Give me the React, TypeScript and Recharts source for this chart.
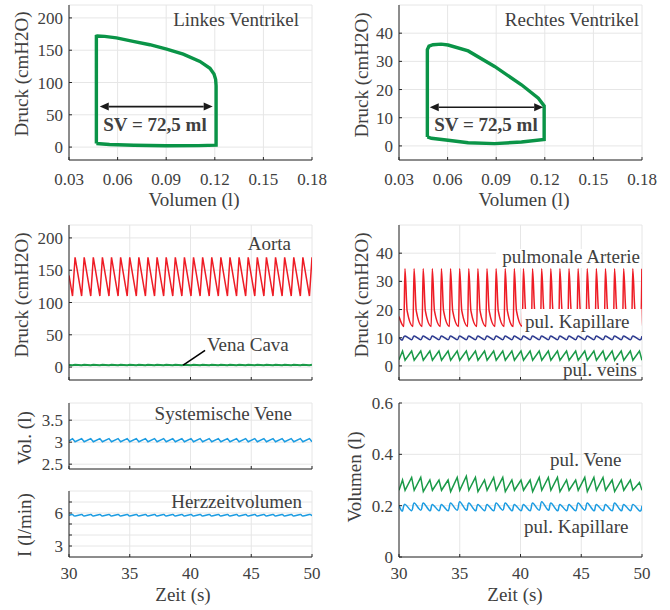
import { CartesianGrid, Line, LineChart, ReferenceLine, XAxis, YAxis } from "recharts";

const FONT = "'Liberation Serif', 'Times New Roman', serif";
const INK = "#404040";
const AXIS = "#262626";
const GRID = "#e6e6e6";
const RED = "#ee1c25";
const GREEN = "#1a9a48";
const NAVY = "#2b3990";
const BLUE = "#1b9ce2";
const LOOP = "#0a9447";

// pressure-volume loops (l, cmH2O)
const LV_VOL = [0.0469, 0.0469, 0.0475, 0.052, 0.0593, 0.0696, 0.0799, 0.0903, 0.1005, 0.1108, 0.117, 0.1195, 0.1205, 0.1208, 0.1208, 0.11, 0.09, 0.07, 0.055, 0.0469];
const LV_P = [5.5, 171.5, 172, 171.5, 169, 163.7, 158.5, 151.8, 144, 132.6, 122, 113, 105, 95, 3, 2.2, 2, 2.8, 4, 5.5];
const RV_VOL = [0.0475, 0.0475, 0.0485, 0.051, 0.056, 0.0603, 0.0727, 0.089, 0.1056, 0.116, 0.1196, 0.1196, 0.1056, 0.089, 0.0727, 0.0603, 0.05, 0.0475];
const RV_P = [3.2, 34.2, 35.4, 35.9, 36.1, 35.8, 33.7, 28.2, 21.7, 16.9, 14.2, 2.3, 1.4, 0.8, 1.1, 2.0, 2.7, 3.2];

const VOL_TICKS = [0.03, 0.06, 0.09, 0.12, 0.15, 0.18];
const T_TICKS = [30, 35, 40, 45, 50];

// time grid: valve onset / peak of each beat
const TIME = [30,
  30.29, 30.5, 31.04, 31.25, 31.79, 32, 32.54, 32.75, 33.29, 33.5, 34.04, 34.25, 34.79, 35, 35.54, 35.75, 36.29, 36.5,
  37.04, 37.25, 37.79, 38, 38.54, 38.75, 39.29, 39.5, 40.04, 40.25, 40.79, 41, 41.54, 41.75, 42.29, 42.5, 43.04, 43.25,
  43.79, 44, 44.54, 44.75, 45.29, 45.5, 46.04, 46.25, 46.79, 47, 47.54, 47.75, 48.29, 48.5, 49.04, 49.25, 49.79, 50];

const AORTA = [142,
  110, 170, 110, 170, 110, 170, 110, 170, 110, 170, 110, 170, 110, 170, 110, 170, 110, 170,
  110, 170, 110, 170, 110, 170, 110, 170, 110, 170, 110, 170, 110, 170, 110, 170, 110, 170,
  110, 170, 110, 170, 110, 170, 110, 170, 110, 170, 110, 170, 110, 170, 110, 170, 110, 170];
const VENA_CAVA = [3.1,
  2.7, 3.5, 2.7, 3.5, 2.7, 3.5, 2.7, 3.5, 2.7, 3.5, 2.7, 3.5, 2.7, 3.5, 2.7, 3.5, 2.7, 3.5,
  2.7, 3.5, 2.7, 3.5, 2.7, 3.5, 2.7, 3.5, 2.7, 3.5, 2.7, 3.5, 2.7, 3.5, 2.7, 3.5, 2.7, 3.5,
  2.7, 3.5, 2.7, 3.5, 2.7, 3.5, 2.7, 3.5, 2.7, 3.5, 2.7, 3.5, 2.7, 3.5, 2.7, 3.5, 2.7, 3.5];
const PUL_CAP_P = [10.0,
  9.3, 10.6, 9.3, 10.6, 9.3, 10.6, 9.3, 10.6, 9.3, 10.6, 9.3, 10.6, 9.3, 10.6, 9.3, 10.6, 9.3, 10.6,
  9.3, 10.6, 9.3, 10.6, 9.3, 10.6, 9.3, 10.6, 9.3, 10.6, 9.3, 10.6, 9.3, 10.6, 9.3, 10.6, 9.3, 10.6,
  9.3, 10.6, 9.3, 10.6, 9.3, 10.6, 9.3, 10.6, 9.3, 10.6, 9.3, 10.6, 9.3, 10.6, 9.3, 10.6, 9.3, 10.6];
const PUL_VEIN_P = [2.2,
  5.3, 2.0, 5.3, 2.0, 5.3, 2.0, 5.3, 2.0, 5.3, 2.0, 5.3, 2.0, 5.3, 2.0, 5.3, 2.0, 5.3, 2.0,
  5.3, 2.0, 5.3, 2.0, 5.3, 2.0, 5.3, 2.0, 5.3, 2.0, 5.3, 2.0, 5.3, 2.0, 5.3, 2.0, 5.3, 2.0,
  5.3, 2.0, 5.3, 2.0, 5.3, 2.0, 5.3, 2.0, 5.3, 2.0, 5.3, 2.0, 5.3, 2.0, 5.3, 2.0, 5.3, 2.0];
const SYS_VENE = [3.03,
  3.08, 3.01, 3.08, 3.01, 3.08, 3.01, 3.08, 3.01, 3.08, 3.01, 3.08, 3.01, 3.08, 3.01, 3.08, 3.01, 3.08, 3.01,
  3.08, 3.01, 3.08, 3.01, 3.08, 3.01, 3.08, 3.01, 3.08, 3.01, 3.08, 3.01, 3.08, 3.01, 3.08, 3.01, 3.08, 3.01,
  3.08, 3.01, 3.08, 3.01, 3.08, 3.01, 3.08, 3.01, 3.08, 3.01, 3.08, 3.01, 3.08, 3.01, 3.08, 3.01, 3.08, 3.01];
const HZV = [5.78,
  5.86, 5.72, 5.86, 5.72, 5.86, 5.72, 5.86, 5.72, 5.86, 5.72, 5.86, 5.72, 5.86, 5.72, 5.86, 5.72, 5.86, 5.72,
  5.86, 5.72, 5.86, 5.72, 5.86, 5.72, 5.86, 5.72, 5.86, 5.72, 5.86, 5.72, 5.86, 5.72, 5.86, 5.72, 5.86, 5.72,
  5.86, 5.72, 5.86, 5.72, 5.86, 5.72, 5.86, 5.72, 5.86, 5.72, 5.86, 5.72, 5.86, 5.72, 5.86, 5.72, 5.86, 5.72];
const PUL_VENE_V = [0.26,
  0.30, 0.26, 0.31, 0.26, 0.31, 0.255, 0.30, 0.26, 0.30, 0.26, 0.30, 0.255, 0.31, 0.26, 0.315, 0.26, 0.31, 0.255,
  0.30, 0.26, 0.31, 0.26, 0.31, 0.255, 0.30, 0.26, 0.30, 0.26, 0.30, 0.255, 0.31, 0.26, 0.31, 0.26, 0.31, 0.255,
  0.30, 0.26, 0.30, 0.26, 0.31, 0.255, 0.31, 0.26, 0.31, 0.26, 0.30, 0.255, 0.30, 0.26, 0.30, 0.26, 0.29, 0.26];
const PUL_KAP_V = [0.20,
  0.18, 0.205, 0.18, 0.21, 0.182, 0.21, 0.18, 0.205, 0.18, 0.205, 0.18, 0.21, 0.182, 0.215, 0.182, 0.21, 0.18, 0.205,
  0.18, 0.205, 0.18, 0.21, 0.182, 0.21, 0.18, 0.205, 0.18, 0.205, 0.18, 0.21, 0.182, 0.215, 0.182, 0.21, 0.18, 0.205,
  0.18, 0.205, 0.18, 0.21, 0.182, 0.21, 0.18, 0.205, 0.18, 0.205, 0.18, 0.21, 0.18, 0.205, 0.18, 0.205, 0.18, 0.2];

// pulmonary artery: onset, peak, early decay of each beat
const PA_TIME = [30,
  30.40, 30.49, 30.67, 31.15, 31.24, 31.42, 31.90, 31.99, 32.17,
  32.65, 32.74, 32.92, 33.40, 33.49, 33.67, 34.15, 34.24, 34.42,
  34.90, 34.99, 35.17, 35.65, 35.74, 35.92, 36.40, 36.49, 36.67,
  37.15, 37.24, 37.42, 37.90, 37.99, 38.17, 38.65, 38.74, 38.92,
  39.40, 39.49, 39.67, 40.15, 40.24, 40.42, 40.90, 40.99, 41.17,
  41.65, 41.74, 41.92, 42.40, 42.49, 42.67, 43.15, 43.24, 43.42,
  43.90, 43.99, 44.17, 44.65, 44.74, 44.92, 45.40, 45.49, 45.67,
  46.15, 46.24, 46.42, 46.90, 46.99, 47.17, 47.65, 47.74, 47.92,
  48.40, 48.49, 48.67, 49.15, 49.24, 49.42,
  49.90, 49.99];
const PA_P = [17.5,
  14, 34.5, 19.5, 14, 34.5, 19.5, 14, 34.5, 19.5,
  14, 34.5, 19.5, 14, 34.5, 19.5, 14, 34.5, 19.5,
  14, 34.5, 19.5, 14, 34.5, 19.5, 14, 34.5, 19.5,
  14, 34.5, 19.5, 14, 34.5, 19.5, 14, 34.5, 19.5,
  14, 34.5, 19.5, 14, 34.5, 19.5, 14, 34.5, 19.5,
  14, 34.5, 19.5, 14, 34.5, 19.5, 14, 34.5, 19.5,
  14, 34.5, 19.5, 14, 34.5, 19.5, 14, 34.5, 19.5,
  14, 34.5, 19.5, 14, 34.5, 19.5, 14, 34.5, 19.5,
  14, 34.5, 19.5, 14, 34.5, 19.5,
  14, 34.5];

const pts = (xs: number[], ys: number[]) => xs.map((x, i) => ({ x, y: ys[i] }));
const tickStyle = { fontSize: 17, fill: INK, fontFamily: FONT };

interface AxOpts {
  xDomain: [number, number];
  xTicks: number[];
  xFmt?: (v: number) => string;
  xMargin?: number;
  showX: boolean;
  yDomain: [number, number];
  yTicks: number[];
  yFmt?: (v: number) => string;
}

const blank = () => "";

function axes(o: AxOpts) {
  return [
    <CartesianGrid key="g" stroke={GRID} />,
    <XAxis key="xb" dataKey="x" type="number" domain={o.xDomain} allowDataOverflow ticks={o.xTicks} interval={0}
      tickSize={-3} tickMargin={o.xMargin ?? 16} stroke={AXIS} tick={tickStyle}
      tickFormatter={o.showX ? o.xFmt ?? ((v: number) => String(v)) : blank} height={o.showX ? 30 : 5} />,
    <XAxis key="xt" xAxisId="top" orientation="top" type="number" domain={o.xDomain} allowDataOverflow ticks={o.xTicks}
      interval={0} tickSize={-3} stroke={AXIS} tickFormatter={blank} height={0} />,
    <YAxis key="yl" type="number" domain={o.yDomain} allowDataOverflow ticks={o.yTicks} interval={0} width={60}
      tickSize={-3} tickMargin={9} stroke={AXIS} tick={tickStyle} tickFormatter={o.yFmt ?? ((v: number) => String(v))} />,
    <YAxis key="yr" yAxisId="right" orientation="right" type="number" domain={o.yDomain} allowDataOverflow
      ticks={o.yTicks} interval={0} tickSize={-3} stroke={AXIS} tickFormatter={blank} width={0} />,
  ];
}

const DoubleArrow = (props: any) => {
  const { x1, y1, x2, y2 } = props;
  const h = 9;
  const w = 4;
  return (
    <g>
      <line x1={x1 + h} y1={y1} x2={x2 - h} y2={y2} stroke="#1a1a1a" strokeWidth={1.6} />
      <polygon points={`${x1},${y1} ${x1 + h},${y1 - w} ${x1 + h},${y1 + w}`} fill="#1a1a1a" />
      <polygon points={`${x2},${y2} ${x2 - h},${y2 - w} ${x2 - h},${y2 + w}`} fill="#1a1a1a" />
    </g>
  );
};

// plot box sits 15px below each chart's top edge and 60px right of its left edge
const M = { top: 15, right: 20, bottom: 0, left: 0 };
const W = 323;

function Box({ left, top, children }: { left: number; top: number; children: any }) {
  return <div style={{ position: "absolute", left, top }}>{children}</div>;
}

function T({ x, y, a = "start", b = false, rot = false, children }: any) {
  return (
    <text x={x} y={y} textAnchor={a} fontFamily={FONT} fontSize={19} fill={INK} fontWeight={b ? "bold" : "normal"}
      transform={rot ? `rotate(-90 ${x} ${y})` : undefined}>
      {children}
    </text>
  );
}

export default function App() {
  const volFmt = (v: number) => v.toFixed(2);
  return (
    <div style={{ position: "absolute", left: 0, top: 0, width: 670, height: 610, background: "#fff", fontFamily: FONT, overflow: "hidden" }}>
      <Box left={9} top={-10}>
        <LineChart width={W} height={200} margin={M}>
          {axes({ xDomain: [0.03, 0.18], xTicks: VOL_TICKS, xFmt: volFmt, showX: true, yDomain: [-20, 220], yTicks: [0, 50, 100, 150, 200] })}
          <Line data={pts(LV_VOL, LV_P)} dataKey="y" type="linear" stroke={LOOP} strokeWidth={3.4} dot={false} isAnimationActive={false} />
          <ReferenceLine segment={[{ x: 0.049, y: 62.7 }, { x: 0.1187, y: 62.7 }]} shape={DoubleArrow} />
        </LineChart>
      </Box>
      <Box left={339} top={-10}>
        <LineChart width={W} height={200} margin={M}>
          {axes({ xDomain: [0.03, 0.18], xTicks: VOL_TICKS, xFmt: volFmt, showX: true, yDomain: [-5, 50], yTicks: [0, 10, 20, 30, 40] })}
          <Line data={pts(RV_VOL, RV_P)} dataKey="y" type="linear" stroke={LOOP} strokeWidth={3.4} dot={false} isAnimationActive={false} />
          <ReferenceLine segment={[{ x: 0.049, y: 13.7 }, { x: 0.119, y: 13.7 }]} shape={DoubleArrow} />
        </LineChart>
      </Box>
      <Box left={9} top={210}>
        <LineChart width={W} height={175} margin={M}>
          {axes({ xDomain: [30, 50], xTicks: T_TICKS, showX: false, yDomain: [-20, 220], yTicks: [0, 50, 100, 150, 200] })}
          <Line data={pts(TIME, AORTA)} dataKey="y" type="linear" stroke={RED} strokeWidth={1.5} dot={false} isAnimationActive={false} />
          <Line data={pts(TIME, VENA_CAVA)} dataKey="y" type="linear" stroke={GREEN} strokeWidth={2} dot={false} isAnimationActive={false} />
          <ReferenceLine segment={[{ x: 39.4, y: 3 }, { x: 41.2, y: 26 }]} stroke="#000" strokeWidth={1.6} />
        </LineChart>
      </Box>
      <Box left={339} top={210}>
        <LineChart width={W} height={175} margin={M}>
          {axes({ xDomain: [30, 50], xTicks: T_TICKS, showX: false, yDomain: [-5, 50], yTicks: [0, 10, 20, 30, 40] })}
          <Line data={pts(PA_TIME, PA_P)} dataKey="y" type="monotone" stroke={RED} strokeWidth={1.5} dot={false} isAnimationActive={false} />
          <Line data={pts(TIME, PUL_CAP_P)} dataKey="y" type="natural" stroke={NAVY} strokeWidth={1.5} dot={false} isAnimationActive={false} />
          <Line data={pts(TIME, PUL_VEIN_P)} dataKey="y" type="linear" stroke={GREEN} strokeWidth={1.5} dot={false} isAnimationActive={false} />
        </LineChart>
      </Box>
      <Box left={9} top={388}>
        <LineChart width={W} height={86} margin={M}>
          {axes({ xDomain: [30, 50], xTicks: T_TICKS, showX: false, yDomain: [2.39, 3.89], yTicks: [2.5, 3, 3.5] })}
          <Line data={pts(TIME, SYS_VENE)} dataKey="y" type="linear" stroke={BLUE} strokeWidth={1.5} dot={false} isAnimationActive={false} />
        </LineChart>
      </Box>
      <Box left={9} top={476}>
        <LineChart width={W} height={111} margin={M}>
          {axes({ xDomain: [30, 50], xTicks: T_TICKS, showX: true, xMargin: 13, yDomain: [2, 8], yTicks: [3, 4, 5, 6, 7], yFmt: (v: number) => (v === 3 || v === 6 ? String(v) : "") })}
          <Line data={pts(TIME, HZV)} dataKey="y" type="natural" stroke={BLUE} strokeWidth={1.5} dot={false} isAnimationActive={false} />
        </LineChart>
      </Box>
      <Box left={339} top={388}>
        <LineChart width={W} height={199} margin={M}>
          {axes({ xDomain: [30, 50], xTicks: T_TICKS, showX: true, xMargin: 13, yDomain: [0, 0.6], yTicks: [0, 0.2, 0.4, 0.6] })}
          <Line data={pts(TIME, PUL_VENE_V)} dataKey="y" type="linear" stroke={GREEN} strokeWidth={1.5} dot={false} isAnimationActive={false} />
          <Line data={pts(TIME, PUL_KAP_V)} dataKey="y" type="natural" stroke={BLUE} strokeWidth={1.5} dot={false} isAnimationActive={false} />
        </LineChart>
      </Box>

      <svg width={670} height={610} style={{ position: "absolute", left: 0, top: 0, pointerEvents: "none" }}>
        <rect x={496} y={249} width={145} height={19} fill="#fff" />
        <rect x={522} y={309} width={119.5} height={22} fill="#fff" />
        <T x={299} y={26} a="end">Linkes Ventrikel</T>
        <T x={639} y={26} a="end">Rechtes Ventrikel</T>
        <T x={155} y={131} a="middle" b>SV = 72,5 ml</T>
        <T x={486} y={131} a="middle" b>SV = 72,5 ml</T>
        <T x={194} y={206} a="middle">Volumen (l)</T>
        <T x={524} y={206} a="middle">Volumen (l)</T>
        <T x={183} y={601} a="middle">Zeit (s)</T>
        <T x={515} y={601} a="middle">Zeit (s)</T>
        <T x={28} y={74} a="middle" rot>Druck (cmH2O)</T>
        <T x={368} y={75} a="middle" rot>Druck (cmH2O)</T>
        <T x={28} y={295} a="middle" rot>Druck (cmH2O)</T>
        <T x={368} y={295} a="middle" rot>Druck (cmH2O)</T>
        <T x={31} y={438} a="middle" rot>Vol. (l)</T>
        <T x={31} y={525} a="middle" rot>I (l/min)</T>
        <T x={361} y={477} a="middle" rot>Volumen (l)</T>
        <T x={291} y={250} a="end">Aorta</T>
        <T x={207} y={351}>Vena Cava</T>
        <T x={640} y={263} a="end">pulmonale Arterie</T>
        <T x={525} y={328}>pul. Kapillare</T>
        <T x={637} y={376} a="end">pul. veins</T>
        <T x={292} y={420} a="end">Systemische Vene</T>
        <T x={302} y={508} a="end">Herzzeitvolumen</T>
        <T x={550} y={466}>pul. Vene</T>
        <T x={524} y={533}>pul. Kapillare</T>
      </svg>
    </div>
  );
}
